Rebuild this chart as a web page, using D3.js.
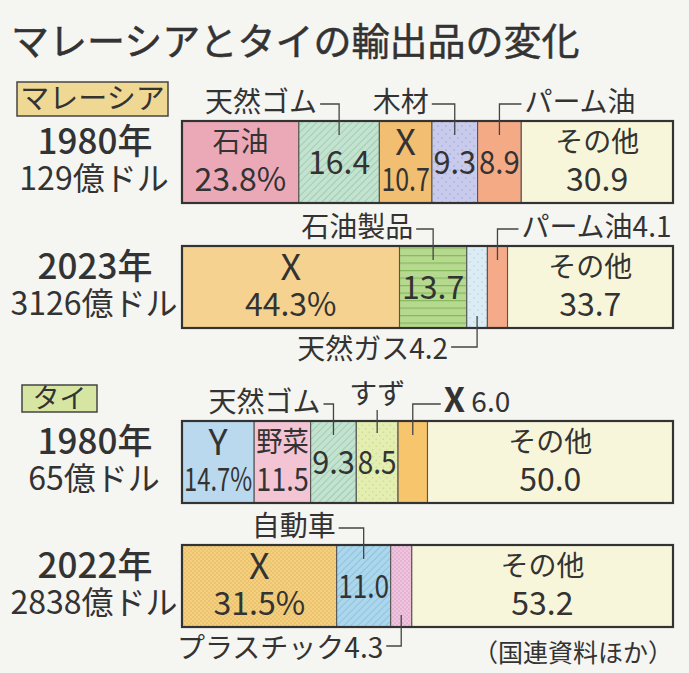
<!DOCTYPE html>
<html>
<head>
<meta charset="utf-8">
<script src="https://cdn.jsdelivr.net/npm/d3@7"></script>
<style>
  body { margin: 0; background: #f4f4f0; }
  text { font-family: "Noto Sans CJK JP", "Noto Sans", sans-serif; fill: #333; }
</style>
</head>
<body>
<script>
//chart data
var title = "マレーシアとタイの輸出品の変化";
var countries = ["マレーシア", "タイ"];
var years = ["1980年", "2023年", "1980年", "2022年"];
var totals = ["129億ドル", "3126億ドル", "65億ドル", "2838億ドル"];

var malaysia1980Items = ["石油", "天然ゴム", "X", "木材", "パーム油", "その他"];
var malaysia1980Values = [23.8, 16.4, 10.7, 9.3, 8.9, 30.9];
var malaysia2023Items = ["X", "石油製品", "天然ガス", "パーム油", "その他"];
var malaysia2023Values = [44.3, 13.7, 4.2, 4.1, 33.7];
var thai1980Items = ["Y", "野菜", "天然ゴム", "すず", "X", "その他"];
var thai1980Values = [14.7, 11.5, 9.3, 8.5, 6.0, 50.0];
var thai2022Items = ["X", "自動車", "プラスチック", "その他"];
var thai2022Values = [31.5, 11.0, 4.3, 53.2];
var source = "（国連資料ほか）";

//width and height
var w = 689;
var h = 673;
var barH = 82;

//label modes: in2 = name + value inside, in1 = value inside, callouts drawn with leader lines
var rowStyles = [
    [
        {fill: "#eba9b8", label: "in2"},
        {fill: "#c3e2cf", pat: "hatchGreen", label: "in1", call: "above", side: "left", gap: 19},
        {fill: "#f1be72", label: "in2"},
        {fill: "#c9cbec", pat: "dotsBlue", label: "in1", call: "above", side: "left", gap: 23},
        {fill: "#f5aa86", label: "in1", call: "above", side: "right", gap: 22},
        {fill: "#f8f6da", label: "in2"}
    ],
    [
        {fill: "#f5d290", label: "in2"},
        {fill: "#b5d98e", pat: "stripesGreen", label: "in1", call: "above", side: "left", gap: 17},
        {fill: "#dcecf5", pat: "dotsLight", call: "below", side: "left", gap: 26, withValue: true},
        {fill: "#f5ab8a", call: "above", side: "right", gap: 21, withValue: true},
        {fill: "#f8f6da", label: "in2"}
    ],
    [
        {fill: "#bad9ef", label: "in2"},
        {fill: "#f2c4d4", label: "in2"},
        {fill: "#c3e2cf", pat: "hatchGreen", label: "in1", call: "above", side: "left", gap: 10},
        {fill: "#e4eeb2", pat: "dotsYellow", label: "in1", call: "vertical"},
        {fill: "#f7c56c", call: "above", side: "right", gap: 28, withValue: true},
        {fill: "#f8f6da", label: "in2"}
    ],
    [
        {fill: "#f4d07e", pat: "dotsOrange", label: "in2"},
        {fill: "#acd6ec", pat: "hatchBlue", label: "in1", call: "above", side: "left", gap: 25},
        {fill: "#f0c4df", pat: "dotsPink", call: "below", side: "left", gap: 15, withValue: true},
        {fill: "#f8f6da", label: "in2"}
    ]
];

var rows = [
    {items: malaysia1980Items, values: malaysia1980Values, year: years[0], total: totals[0], top: 121},
    {items: malaysia2023Items, values: malaysia2023Values, year: years[1], total: totals[1], top: 246},
    {items: thai1980Items, values: thai1980Values, year: years[2], total: totals[2], top: 421},
    {items: thai2022Items, values: thai2022Values, year: years[3], total: totals[3], top: 545}
];

//percent scale across the bar
var x = d3.scaleLinear()
            .domain([0, 100])
            .range([182, 673]);

var fmt = d3.format(".1f");

//add svg canvas
var svg = d3.select("body")
            .append("svg")
            .attr("width", w)
            .attr("height", h);

svg.append("rect")
    .attr("width", w)
    .attr("height", h)
    .attr("fill", "#f5f5f2");

//fill patterns
var defs = svg.append("defs");

function hatch(id, bg, line) {
    var p = defs.append("pattern")
        .attr("id", id)
        .attr("patternUnits", "userSpaceOnUse")
        .attr("width", 5)
        .attr("height", 5)
        .attr("patternTransform", "rotate(45)");
    p.append("rect").attr("width", 5).attr("height", 5).attr("fill", bg);
    p.append("line").attr("x1", 0).attr("y1", 0).attr("x2", 0).attr("y2", 5)
        .attr("stroke", line).attr("stroke-width", 1.6);
}

function stripes(id, bg, line) {
    var p = defs.append("pattern")
        .attr("id", id)
        .attr("patternUnits", "userSpaceOnUse")
        .attr("width", 10)
        .attr("height", 7.5);
    p.append("rect").attr("width", 10).attr("height", 7.5).attr("fill", bg);
    p.append("line").attr("x1", 0).attr("y1", 0.6).attr("x2", 10).attr("y2", 0.6)
        .attr("stroke", line).attr("stroke-width", 1.2);
}

function dots(id, bg, dot, size) {
    var p = defs.append("pattern")
        .attr("id", id)
        .attr("patternUnits", "userSpaceOnUse")
        .attr("width", size)
        .attr("height", size);
    p.append("rect").attr("width", size).attr("height", size).attr("fill", bg);
    p.append("circle").attr("cx", size / 4).attr("cy", size / 4).attr("r", 0.8).attr("fill", dot);
    p.append("circle").attr("cx", size * 3 / 4).attr("cy", size * 3 / 4).attr("r", 0.8).attr("fill", dot);
}

hatch("hatchGreen", "#c3e2cf", "#97c9ab");
hatch("hatchBlue", "#acd6ec", "#86bedc");
stripes("stripesGreen", "#b5d98e", "#86b95c");
dots("dotsBlue", "#c9cbec", "#9ea2d6", 8);
dots("dotsLight", "#dcecf5", "#b4cfe0", 8);
dots("dotsYellow", "#e4eeb2", "#c7dc84", 7);
dots("dotsOrange", "#f4d07e", "#e2b660", 4);
dots("dotsPink", "#f0c4df", "#d9a0c4", 4);

//title
svg.append("text")
    .attr("x", 11)
    .attr("y", 55)
    .style("font-size", "38px")
    .style("stroke", "#333")
    .style("stroke-width", 0.5)
    .text(title);

//country tags
var tags = [
    {name: countries[0], x: 17, y: 82, w: 151, h: 34, fill: "#efd894", size: 29},
    {name: countries[1], x: 22, y: 385, w: 75, h: 27, fill: "#d6e6a2", size: 27}
];
tags.forEach(function(t) {
    svg.append("rect")
        .attr("x", t.x).attr("y", t.y)
        .attr("width", t.w).attr("height", t.h)
        .attr("fill", t.fill)
        .attr("stroke", "#444")
        .attr("stroke-width", 1.5);
    svg.append("text")
        .attr("x", t.x + t.w / 2)
        .attr("y", t.y + t.h / 2 + t.size * 0.36)
        .attr("text-anchor", "middle")
        .style("font-size", t.size + "px")
        .text(t.name);
});

//squeeze text into a segment like the print does
function fit(sel, maxW) {
    var len = sel.node().getComputedTextLength();
    if (len > maxW) {
        sel.attr("textLength", maxW).attr("lengthAdjust", "spacingAndGlyphs");
    }
}

rows.forEach(function(row, r) {
    var top = row.top;
    var bottom = top + barH;

    //year and total on the left
    svg.append("text")
        .attr("x", 95).attr("y", top + 33)
        .attr("text-anchor", "middle")
        .style("font-size", "35px")
        .style("font-weight", 500)
        .text(row.year);
    svg.append("text")
        .attr("x", 94).attr("y", top + 69)
        .attr("text-anchor", "middle")
        .style("font-size", "32px")
        .text(row.total);

    //cumulative starts
    var starts = [];
    var acc = 0;
    row.values.forEach(function(v) { starts.push(acc); acc += v; });

    var segs = row.items.map(function(name, i) {
        return {name: name, value: row.values[i], start: starts[i], style: rowStyles[r][i], first: i === 0};
    });

    var g = svg.append("g");

    g.selectAll("rect")
        .data(segs)
        .enter()
        .append("rect")
        .attr("x", function(d) { return x(d.start); })
        .attr("y", top)
        .attr("width", function(d) { return x(d.start + d.value) - x(d.start); })
        .attr("height", barH)
        .attr("fill", function(d) { return d.style.pat ? "url(#" + d.style.pat + ")" : d.style.fill; })
        .attr("stroke", "#555")
        .attr("stroke-width", 1.1);

    //outer frame
    g.append("rect")
        .attr("x", x(0)).attr("y", top)
        .attr("width", x(100) - x(0)).attr("height", barH)
        .attr("fill", "none")
        .attr("stroke", "#333")
        .attr("stroke-width", 2.2);

    segs.forEach(function(d) {
        var s = d.style;
        var x0 = x(d.start), x1 = x(d.start + d.value);
        var cx = (x0 + x1) / 2;
        var segW = x1 - x0;
        var valText = fmt(d.value) + (d.first ? "%" : "");

        if (s.label === "in2") {
            var big = (d.name === "X" || d.name === "Y");
            var t1 = g.append("text")
                .attr("x", cx).attr("y", top + (big ? 34 : 31))
                .attr("text-anchor", "middle")
                .style("font-size", big ? "36px" : "28px")
                .text(d.name);
            fit(t1, segW - 4);
            var t2 = g.append("text")
                .attr("x", cx).attr("y", top + 70)
                .attr("text-anchor", "middle")
                .style("font-size", "32px")
                .text(valText);
            fit(t2, segW - 4);
        } else if (s.label === "in1") {
            var t = g.append("text")
                .attr("x", cx).attr("y", top + 53)
                .attr("text-anchor", "middle")
                .style("font-size", "32px")
                .text(valText);
            fit(t, segW - 3);
        }

        //leader lines and outside labels
        if (!s.call) return;
        var lbl = d.name;
        var path;
        var tx, ty, anchor;
        if (s.call === "vertical") {
            path = "M" + cx + "," + (top + 12) + "V" + (top - 11);
            tx = cx; ty = top - 17; anchor = "middle";
        } else if (s.call === "above") {
            var ly = top - 17;
            var ex = s.side === "left" ? cx - s.gap : cx + s.gap;
            path = "M" + cx + "," + (top + 14) + "V" + ly + "H" + ex;
            tx = s.side === "left" ? ex - 3 : ex + 3;
            ty = top - 9;
            anchor = s.side === "left" ? "end" : "start";
        } else {
            var by = bottom + 19;
            var bx = s.side === "left" ? cx - s.gap : cx + s.gap;
            path = "M" + cx + "," + (bottom - 12) + "V" + by + "H" + bx;
            tx = s.side === "left" ? bx - 3 : bx + 3;
            ty = bottom + 31;
            anchor = s.side === "left" ? "end" : "start";
        }
        svg.append("path")
            .attr("d", path)
            .attr("fill", "none")
            .attr("stroke", "#444")
            .attr("stroke-width", 1.3);

        var ot = svg.append("text")
            .attr("x", tx).attr("y", ty)
            .attr("text-anchor", anchor)
            .style("font-size", "28px");
        if (lbl === "X") {
            ot.append("tspan").style("font-size", "34px").style("font-weight", 700).text("X");
            ot.append("tspan").text(" " + fmt(d.value));
        } else {
            ot.text(s.withValue ? lbl + fmt(d.value) : lbl);
        }
    });
});

//source note
svg.append("text")
    .attr("x", 673)
    .attr("y", 662)
    .attr("text-anchor", "end")
    .style("font-size", "25px")
    .text(source);
</script>
</body>
</html>
